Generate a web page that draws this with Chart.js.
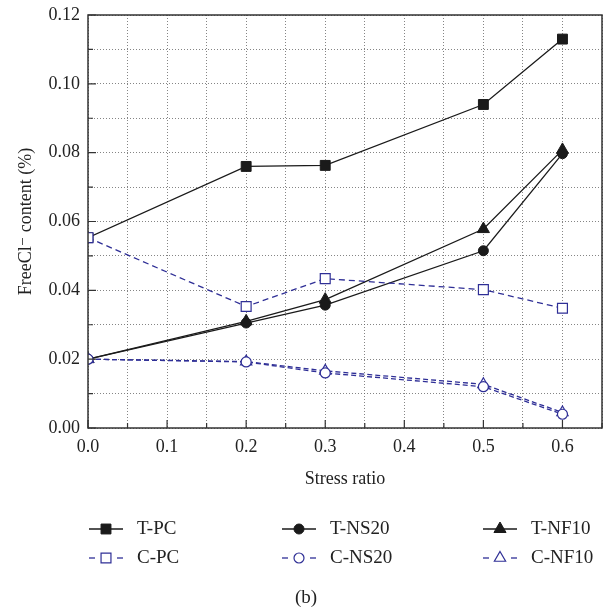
<!DOCTYPE html>
<html>
<head>
<meta charset="utf-8">
<script src="https://cdn.jsdelivr.net/npm/chart.js@4.4.0/dist/chart.umd.min.js"></script>
<style>
  body { margin: 0; background: #fff; }
  canvas { display: block; }
</style>
</head>
<body>
<canvas id="myChart" width="612" height="614"></canvas>
<script>
  // stress ratio
  const stressRatio = [0.0, 0.2, 0.3, 0.5, 0.6];

  // free chloride content (%)
  const tPC   = [0.0553, 0.0760, 0.0763, 0.0940, 0.1130];
  const tNS20 = [0.0200, 0.0305, 0.0357, 0.0515, 0.0797];
  const tNF10 = [0.0200, 0.0310, 0.0373, 0.0578, 0.0808];
  const cPC   = [0.0553, 0.0353, 0.0434, 0.0402, 0.0348];
  const cNS20 = [0.0200, 0.0192, 0.0160, 0.0120, 0.0040];
  const cNF10 = [0.0200, 0.0193, 0.0166, 0.0127, 0.0045];

  const xTicks = [0.0, 0.1, 0.2, 0.3, 0.4, 0.5, 0.6];
  const yTicks = [0.00, 0.02, 0.04, 0.06, 0.08, 0.10, 0.12];

  const black = '#1a1a1a';
  const blue = '#2f2f96';
  const serif = '"Liberation Serif", "DejaVu Serif", serif';

  function pts(ys) {
    return stressRatio.map((x, i) => ({ x: x, y: ys[i] }));
  }

  function tSet(label, ys, style, r) {
    return {
      label: label, data: pts(ys),
      borderColor: black, backgroundColor: black,
      borderWidth: 1.3, pointStyle: style, pointRadius: r,
      pointBorderColor: black, pointBackgroundColor: black, pointBorderWidth: 1
    };
  }
  function cSet(label, ys, style, r, dash) {
    return {
      label: label, data: pts(ys),
      borderColor: blue, backgroundColor: '#fff',
      borderWidth: 1.3, borderDash: dash, pointStyle: style, pointRadius: r,
      pointBorderColor: blue, pointBackgroundColor: '#fff', pointBorderWidth: 1.2
    };
  }

  const datasets = [
    cSet('C-PC', cPC, 'rect', 7, [6, 4]),
    cSet('C-NS20', cNS20, 'circle', 5, [5, 3]),
    cSet('C-NF10', cNF10, 'triangle', 6.5, [5, 3]),
    tSet('T-PC', tPC, 'rect', 7),
    tSet('T-NS20', tNS20, 'circle', 5),
    tSet('T-NF10', tNF10, 'triangle', 7)
  ];

  const isLabel = (arr, v) => arr.some(t => Math.abs(t - v) < 1e-6);

  // frame, inward ticks, legend and caption
  const extras = {
    id: 'extras',
    afterDraw(chart) {
      const c = chart.ctx, a = chart.chartArea;
      const xs = chart.scales.x, ys = chart.scales.y;
      c.save();
      c.strokeStyle = '#333';
      c.lineWidth = 1.5;
      c.setLineDash([]);
      c.strokeRect(a.left, a.top, a.right - a.left, a.bottom - a.top);
      c.lineWidth = 1.2;
      c.beginPath();
      xs.ticks.forEach(t => {
        const px = xs.getPixelForValue(t.value);
        const len = isLabel(xTicks, t.value) ? 8 : 5;
        c.moveTo(px, a.bottom); c.lineTo(px, a.bottom - len);
      });
      ys.ticks.forEach(t => {
        const py = ys.getPixelForValue(t.value);
        const len = isLabel(yTicks, t.value) ? 8 : 5;
        c.moveTo(a.left, py); c.lineTo(a.left + len, py);
      });
      c.stroke();

      // legend, 3 columns x 2 rows
      const order = ['T-PC', 'T-NS20', 'T-NF10', 'C-PC', 'C-NS20', 'C-NF10'];
      const colX = [89, 282, 483];
      const rowY = [529, 558];
      c.font = '19px ' + serif;
      c.textBaseline = 'middle';
      order.forEach((name, i) => {
        const ds = chart.data.datasets.find(d => d.label === name);
        const x0 = colX[i % 3], y0 = rowY[Math.floor(i / 3)];
        c.strokeStyle = ds.borderColor;
        c.lineWidth = 1.3;
        if (ds.borderDash) {
          c.beginPath(); c.moveTo(x0, y0); c.lineTo(x0 + 6, y0); c.stroke();
          c.beginPath(); c.moveTo(x0 + 28, y0); c.lineTo(x0 + 34, y0); c.stroke();
        } else {
          c.beginPath(); c.moveTo(x0, y0); c.lineTo(x0 + 34, y0); c.stroke();
        }
        c.fillStyle = ds.pointBackgroundColor;
        c.strokeStyle = ds.pointBorderColor;
        c.lineWidth = ds.pointBorderWidth;
        Chart.helpers.drawPoint(c, { pointStyle: ds.pointStyle, radius: ds.pointRadius, borderWidth: ds.pointBorderWidth }, x0 + 17, y0);
        c.fillStyle = '#222';
        c.textAlign = 'left';
        c.fillText(name, x0 + 48, y0);
      });

      c.textAlign = 'center';
      c.fillText('(b)', 306, 598);
      c.restore();
    }
  };

  const ctx = document.getElementById('myChart');

  new Chart(ctx, {
    type: 'line',
    data: { datasets: datasets },
    options: {
      responsive: false,
      animation: false,
      layout: { padding: { left: 10, right: 10, top: 15, bottom: 124 } },
      plugins: {
        legend: { display: false },
        tooltip: { enabled: false }
      },
      scales: {
        x: {
          type: 'linear', min: 0, max: 0.65,
          afterFit: s => { s.height = 62; s.paddingLeft = 0; s.paddingRight = 0; },
          ticks: {
            stepSize: 0.05, autoSkip: false, maxRotation: 0, padding: 8,
            color: '#222', font: { family: serif, size: 18 },
            callback: v => isLabel(xTicks, v) ? v.toFixed(1) : ''
          },
          grid: { color: '#666', lineWidth: 0.8, drawTicks: false, tickLength: 0 },
          border: { display: false, dash: [1, 2] },
          title: {
            display: true, text: 'Stress ratio', color: '#222',
            font: { family: serif, size: 18 }, padding: { top: 1, bottom: 0 }
          }
        },
        y: {
          type: 'linear', min: 0, max: 0.12,
          afterFit: s => { s.width = 78; s.paddingTop = 0; s.paddingBottom = 0; },
          ticks: {
            stepSize: 0.01, autoSkip: false, padding: 8,
            color: '#222', font: { family: serif, size: 18 },
            callback: v => isLabel(yTicks, v) ? v.toFixed(2) : ''
          },
          grid: { color: '#666', lineWidth: 0.8, drawTicks: false, tickLength: 0 },
          border: { display: false, dash: [1, 2] },
          title: {
            display: true, text: 'FreeCl\u207B content (%)', color: '#222',
            font: { family: serif, size: 18 }, padding: { top: 5, bottom: 0 }
          }
        }
      }
    },
    plugins: [extras]
  });
</script>
</body>
</html>
